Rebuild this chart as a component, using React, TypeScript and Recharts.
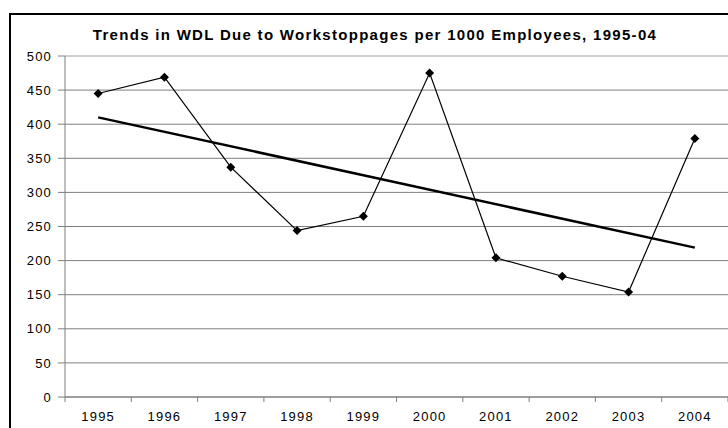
import { LineChart, Line, XAxis, YAxis, CartesianGrid, ReferenceLine } from "recharts"

const years = ["1995", "1996", "1997", "1998", "1999", "2000", "2001", "2002", "2003", "2004"]
const wdl = [445, 469, 337, 244, 265, 475, 204, 177, 154, 379]
// linear trend, drawn between its first and last year
const trendStart = 410
const trendEnd = 219
const yTicks = [0, 50, 100, 150, 200, 250, 300, 350, 400, 450, 500]

// year labels sit on whole positions, tick marks on the half positions between them
const xTicks = [-0.5, ...years.flatMap((_, i) => [i, i + 0.5])]

const data = years.map((year, i) => ({
  x: i,
  year,
  wdl: wdl[i],
  trend: i === 0 ? trendStart : i === years.length - 1 ? trendEnd : null,
}))

const font = "'Liberation Sans', Arial, sans-serif"
const axisGray = "#7f7f7f"

function Diamond({ cx, cy }: any) {
  if (cx == null || cy == null) return null
  const r = 4.5
  return <path d={`M${cx},${cy - r}L${cx + r},${cy}L${cx},${cy + r}L${cx - r},${cy}Z`} fill="#000" />
}

function YearTick({ x, y, payload }: any) {
  const v = payload.value
  if (Number.isInteger(v)) {
    return (
      <text x={x} y={y + 24} textAnchor="middle" fill="#000" fontSize={13} fontFamily={font} letterSpacing={1.2}>
        {years[v]}
      </text>
    )
  }
  return <line x1={x} x2={x} y1={y} y2={y + 5} stroke={axisGray} />
}

export default function App() {
  return (
    <div style={{ position: "fixed", left: 0, top: 0, width: 728, height: 428, overflow: "hidden", background: "#fff" }}>
      <div style={{ position: "absolute", left: 9, top: 13, width: 740, height: 440, border: "2px solid #000" }} />
      <div
        style={{
          position: "absolute",
          left: 0,
          top: 26,
          width: 750,
          textAlign: "center",
          fontFamily: font,
          fontWeight: "bold",
          fontSize: 15,
          letterSpacing: 1.3,
          color: "#000",
        }}
      >
        Trends in WDL Due to Workstoppages per 1000 Employees, 1995-04
      </div>
      <LineChart
        width={728}
        height={428}
        data={data}
        margin={{ top: 56, right: 0, bottom: 0, left: 0 }}
        style={{ position: "absolute", left: 0, top: 0 }}
      >
        <CartesianGrid horizontal vertical={false} stroke={axisGray} />
        <ReferenceLine y={500} stroke="#dedede" />
        <XAxis
          dataKey="x"
          type="number"
          domain={[-0.5, 9.5]}
          ticks={xTicks}
          interval={0}
          height={31}
          tickSize={0}
          tickMargin={0}
          tickLine={false}
          axisLine={{ stroke: axisGray }}
          tick={<YearTick />}
        />
        <YAxis
          domain={[0, 500]}
          ticks={yTicks}
          width={65}
          tickSize={7}
          tickMargin={6}
          axisLine={{ stroke: axisGray }}
          tickLine={{ stroke: axisGray }}
          tick={{ fill: "#000", fontSize: 13, fontFamily: font, letterSpacing: 1.2 }}
        />
        <Line
          dataKey="trend"
          connectNulls
          stroke="#000"
          strokeWidth={2.5}
          dot={false}
          activeDot={false}
          isAnimationActive={false}
        />
        <Line
          dataKey="wdl"
          stroke="#000"
          strokeWidth={1.2}
          dot={<Diamond />}
          activeDot={false}
          isAnimationActive={false}
        />
      </LineChart>
    </div>
  )
}
